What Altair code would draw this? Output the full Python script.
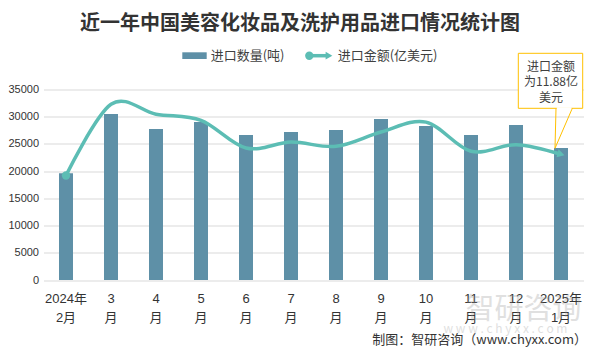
import altair as alt
import pandas as pd

# ---- data ----
categories = ["2024年\n2月", "3\n月", "4\n月", "5\n月", "6\n月", "7\n月", "8\n月",
              "9\n月", "10\n月", "11\n月", "12\n月", "2025年\n1月"]
quantity = [19610, 30500, 27760, 29040, 26650, 27200, 27570, 29600, 28310, 26650, 28490, 24260]
amount = [9.87, 16.6, 15.67, 15.08, 12.47, 13.03, 12.63, 13.98, 14.92, 12.16, 12.79, 11.88]
y_ticks = [0, 5000, 10000, 15000, 20000, 25000, 30000, 35000]

title_text = "近一年中国美容化妆品及洗护用品进口情况统计图"
legend_qty = "进口数量(吨)"
legend_amt = "进口金额(亿美元)"
note_text = "进口金额\n为11.88亿\n美元"
footer_text = "制图：智研咨询（www.chyxx.com）"

df = pd.DataFrame({"month": categories, "qty": quantity, "amt": amount,
                   "order": list(range(len(categories)))})
one = pd.DataFrame({"a": [0]})

FONT = "Noto Sans CJK SC"
NUMFONT = "Liberation Sans, Noto Sans CJK SC"
BAR = "#5E90A7"
LINE = "#5CBDB4"
TXT = "#333333"
GOLD = "#FFC000"

x_enc = alt.X("month:N", sort=categories,
              scale=alt.Scale(paddingInner=0.689, paddingOuter=0.3444),
              axis=alt.Axis(title=None, labelExpr="split(datum.label, '\\n')",
                            labelAngle=0, labelFontSize=13, labelColor=TXT,
                            labelPadding=12, labelLineHeight=19, ticks=False,
                            domain=False, labelFont=NUMFONT))

bars = alt.Chart(df).mark_bar(color=BAR).encode(
    x=x_enc,
    y=alt.Y("qty:Q", scale=alt.Scale(domain=[0, 35000]),
            axis=alt.Axis(values=y_ticks, format="d", title=None, grid=True,
                          gridColor="#d9d9d9", ticks=False, domain=False,
                          labelFontSize=11, labelColor=TXT, labelPadding=5,
                          labelFont=NUMFONT)),
)

amt_y = alt.Y("amt:Q", scale=alt.Scale(domain=[0, 18]), axis=None)

line = alt.Chart(df).mark_line(color=LINE, strokeWidth=3.5, interpolate="cardinal").encode(
    x=x_enc, y=amt_y)
start = alt.Chart(df).transform_filter("datum.order == 0").mark_circle(
    color=LINE, size=70, opacity=1).encode(x=x_enc, y=amt_y)
end = alt.Chart(df).transform_filter("datum.order == 11").mark_point(
    shape="triangle-right", filled=True, color=LINE, size=70, angle=15, opacity=1).encode(
    x=x_enc, y=amt_y)


def txt(s, x, y, size=13, color=TXT, align="center", weight="normal", font=FONT, opacity=1.0):
    return alt.Chart(one).mark_text(text=s, fontSize=size, color=color, align=align,
                                    baseline="middle", fontWeight=weight, font=font,
                                    opacity=opacity, lineBreak="\n", lineHeight=15.5).encode(
        x=alt.value(x), y=alt.value(y))


def rule(x, x2, y, y2, color, w=1.0):
    return alt.Chart(one).mark_rule(color=color, strokeWidth=w).encode(
        x=alt.value(x), x2=alt.value(x2), y=alt.value(y), y2=alt.value(y2))


title = txt(title_text, 256.5, -65.5, size=20, weight="bold")

leg_swatch = alt.Chart(one).mark_rect(color=BAR).encode(
    x=alt.value(138.8), x2=alt.value(163.2), y=alt.value(-37.2), y2=alt.value(-30.5))
leg_t1 = txt(legend_qty, 167.2, -33.8, align="left", color="#404040")
leg_line = rule(265.8, 284, -33.8, -33.8, LINE, 3.5)
leg_circle = alt.Chart(one).mark_circle(color=LINE, size=70, opacity=1).encode(
    x=alt.value(265.8), y=alt.value(-33.8))
leg_arrow = alt.Chart(one).mark_point(shape="triangle-right", filled=True, color=LINE,
                                      size=60, opacity=1).encode(
    x=alt.value(285.5), y=alt.value(-33.8))
leg_t2 = txt(legend_amt, 294.2, -33.8, align="left", color="#404040")

# callout
box = alt.Chart(one).mark_rect(fill="white", stroke=GOLD, strokeWidth=1).encode(
    x=alt.value(474.8), x2=alt.value(539.2), y=alt.value(-36.2), y2=alt.value(18.8))
p1 = rule(512.5, 511.5, 18.8, 58.8, GOLD)
p2 = rule(528.8, 511.5, 18.8, 58.8, GOLD)
gap = rule(513.3, 528.0, 18.8, 18.8, "white", 2)
note = txt(note_text, 507.5, -22.8, size=12, color="#404040")

# watermark & footer
wm1 = txt("智研咨询", 480, 220, size=29, color="#9a9a9a", opacity=0.3)
wm2 = txt("w w w . c h y x x . c o m", 462, 239.8, size=12, color="#9a9a9a", opacity=0.3)
footer = txt(footer_text, 543.5, 250.5, size=13, align="right", color=TXT)

chart = alt.layer(
    wm1, wm2,
    bars, line, start, end,
    title, leg_swatch, leg_t1, leg_line, leg_circle, leg_arrow, leg_t2,
    box, p1, p2, gap, note, footer,
).resolve_scale(y="independent").properties(
    width=540, height=190.5,
    autosize=alt.AutoSizeParams(type="none"),
    padding={"left": 35.5, "top": 81.5, "right": 8, "bottom": 68},
    background="white",
).configure_view(stroke=None)

chart.save("out.html", embed_options={"renderer": "svg", "actions": False})
